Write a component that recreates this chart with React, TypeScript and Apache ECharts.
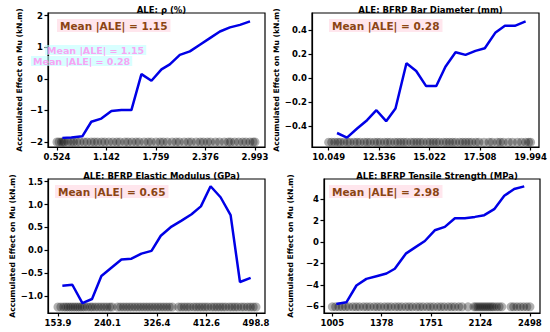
import React, { useEffect, useRef } from "react";
import * as echarts from "echarts";

// ---- Panel titles / annotations ----
const titles = ["ALE: ρ (%)", "ALE: BFRP Bar Diameter (mm)", "ALE: BFRP Elastic Modulus (GPa)", "ALE: BFRP Tensile Strength (MPa)"];
const meanAle = ["1.15", "0.28", "0.65", "2.98"];
const yLabel = "Accumulated Effect on Mu (kN.m)";

// ---- Tick values / labels ----
const xTicks1 = [0.524, 1.142, 1.759, 2.376, 2.993];
const xTicks2 = [10.049, 12.536, 15.022, 17.508, 19.994];
const xTicks3 = [153.9, 240.1, 326.4, 412.6, 498.8];
const xTicks4 = [1005, 1378, 1751, 2124, 2498];
const yTicks1 = [-2, -1, 0, 1, 2];
const yTicks2 = [-0.4, -0.2, 0.0, 0.2, 0.4];
const yTicks3 = [-1.0, -0.5, 0.0, 0.5, 1.0, 1.5];
const yTicks4 = [-6, -4, -2, 0, 2, 4];

// ---- ALE curves ----
const p1X = [0.591, 0.703, 0.84, 0.952, 1.077, 1.203, 1.327, 1.452, 1.577, 1.702, 1.827, 1.931, 2.056, 2.181, 2.306, 2.431, 2.556, 2.681, 2.806, 2.931];
const p1Y = [-1.87, -1.86, -1.82, -1.36, -1.26, -1.02, -0.99, -0.99, 0.15, -0.06, 0.3, 0.46, 0.76, 0.87, 1.08, 1.29, 1.5, 1.63, 1.71, 1.82];

const p2X = [10.46, 10.95, 11.45, 11.94, 12.4, 12.88, 13.34, 13.88, 14.36, 14.85, 15.35, 15.8, 16.3, 16.79, 17.28, 17.74, 18.27, 18.73, 19.22, 19.75];
const p2Y = [-0.456, -0.494, -0.419, -0.35, -0.267, -0.358, -0.253, 0.122, 0.058, -0.067, -0.067, 0.094, 0.214, 0.192, 0.225, 0.247, 0.378, 0.433, 0.433, 0.469];

const p3X = [161.5, 178.9, 196.4, 213.2, 229.5, 246.9, 264.4, 281.9, 299.3, 316.8, 333.0, 351.7, 369.1, 386.6, 402.8, 419.7, 437.1, 454.6, 470.9, 489.5];
const p3Y = [-0.77, -0.75, -1.15, -1.06, -0.56, -0.38, -0.2, -0.18, -0.07, -0.01, 0.32, 0.52, 0.65, 0.79, 0.96, 1.4, 1.16, 0.77, -0.69, -0.6];

const p4X = [1035, 1111, 1187, 1262, 1338, 1414, 1477, 1560, 1628, 1704, 1779, 1855, 1931, 2006, 2082, 2153, 2228, 2304, 2379, 2455];
const p4Y = [-5.78, -5.63, -4.06, -3.44, -3.19, -2.94, -2.5, -1.09, -0.53, 0.09, 1.09, 1.41, 2.22, 2.22, 2.34, 2.5, 3.06, 4.31, 4.94, 5.19];

// ---- Rug (feature sample values) ----
const rug1 = [0.524, 0.55, 0.58, 0.6, 0.62, 0.66, 0.7, 0.73, 0.77, 0.81, 0.86, 0.9, 0.95, 0.99, 1.03, 1.08, 1.12, 1.17, 1.22, 1.27, 1.31, 1.37, 1.41, 1.46, 1.51, 1.55, 1.61, 1.66, 1.7, 1.76, 1.81, 1.85, 1.9, 1.96, 2.01, 2.05, 2.11, 2.16, 2.2, 2.26, 2.31, 2.35, 2.4, 2.44, 2.5, 2.55, 2.61, 2.66, 2.69, 2.74, 2.79, 2.84, 2.88, 2.93, 2.97, 2.993];
const rug1Y = -2.0;
const rug2 = [10.049, 10.2, 10.35, 10.5, 10.62, 10.8, 10.97, 11.1, 11.3, 11.45, 11.6, 11.8, 11.95, 12.1, 12.3, 12.45, 12.6, 12.8, 12.95, 13.1, 13.3, 13.45, 13.6, 13.75, 13.9, 14.1, 14.25, 14.4, 14.55, 14.7, 14.9, 15.05, 15.2, 15.35, 15.5, 15.7, 15.85, 16.0, 16.15, 16.3, 16.5, 16.65, 16.8, 16.95, 17.1, 17.3, 17.45, 17.7, 17.95, 18.1, 18.35, 18.5, 18.65, 18.9, 19.1, 19.35, 19.55, 19.75, 19.9, 19.994];
const rug2Y = -0.532;
const rug3 = [153.9, 159, 164, 168, 172, 176, 180, 184, 188, 192, 196, 200, 205, 210, 214, 219, 224, 229, 234, 239, 244, 248, 258, 263, 268, 273, 278, 283, 288, 293, 298, 303, 308, 313, 318, 323, 328, 333, 338, 343, 348, 353, 364, 369, 374, 379, 384, 390, 395, 400, 405, 410, 415, 421, 426, 431, 436, 441, 446, 452, 457, 462, 467, 473, 478, 484, 489, 494, 498.8];
const rug3Y = -1.235;
const rug4 = [1005, 1030, 1055, 1080, 1105, 1130, 1160, 1185, 1210, 1240, 1265, 1290, 1320, 1345, 1370, 1400, 1425, 1450, 1480, 1505, 1530, 1560, 1585, 1610, 1640, 1665, 1690, 1720, 1745, 1770, 1800, 1825, 1850, 1880, 1905, 1930, 1960, 1985, 2030, 2075, 2090, 2105, 2120, 2135, 2150, 2165, 2180, 2195, 2210, 2225, 2245, 2265, 2285, 2355, 2375, 2400, 2425, 2450, 2475, 2498];
const rug4Y = -6.05;

const FONT = "DejaVu Sans";

export default function App() {
  const ref = useRef<HTMLDivElement>(null);
  useEffect(() => {
    if (!ref.current) return;
    const chart = echarts.init(ref.current, null, { renderer: "svg" });

    const grids = [
      { left: 48, top: 13, width: 217, height: 134 },
      { left: 312, top: 13, width: 227, height: 134 },
      { left: 48, top: 179, width: 217, height: 134 },
      { left: 324, top: 179, width: 216, height: 134 },
    ];
    const xr = [[0.412, 3.118], [9.227, 20.41], [136.5, 514.5], [942, 2574]];
    const yr = [[-2.159, 2.085], [-0.572, 0.539], [-1.366, 1.558], [-6.625, 5.875]];
    const xt = [xTicks1, xTicks2, xTicks3, xTicks4];
    const yt = [yTicks1, yTicks2, yTicks3, yTicks4];
    const yDec = [0, 1, 1, 0];
    const nameGaps = [25, 26, 25, 30];
    const lines = [[p1X, p1Y], [p2X, p2Y], [p3X, p3Y], [p4X, p4Y]];
    const rugs = [[rug1, rug1Y], [rug2, rug2Y], [rug3, rug3Y], [rug4, rug4Y]];
    const annBox = [
      { left: 57, top: 19 },
      { left: 329, top: 19 },
      { left: 55, top: 185 },
      { left: 329, top: 185 },
    ];

    const axisLine = { show: true, onZero: false, lineStyle: { color: "#000", width: 1.2 } };
    const tickStyle = { color: "#000", width: 1.2 };
    const labelStyle = { color: "#000", fontFamily: FONT, fontWeight: "bold" as const, fontSize: 8.5 };
    const fmtMinus = (s: string) => s.replace("-", "\u2212");

    const option: any = {
      animation: false,
      backgroundColor: "#fff",
      grid: grids.map((g) => ({ ...g, show: true, borderColor: "#000", borderWidth: 1.2, backgroundColor: "transparent" })),
      title: [
        ...titles.map((t, i) => ({
          text: t,
          left: grids[i].left + grids[i].width / 2,
          top: grids[i].top - 13,
          textAlign: "center",
          textStyle: { fontFamily: FONT, fontWeight: "bold", fontSize: 8.5, color: "#000" },
        })),
        ...meanAle.map((m, i) => ({
          text: "Mean |ALE| = " + m,
          left: annBox[i].left,
          top: annBox[i].top,
          padding: [1, 3, 1, 3],
          backgroundColor: "rgba(255,200,215,0.45)",
          textStyle: { fontFamily: FONT, fontWeight: "bold", fontSize: 10.5, color: "#8B4513" },
        })),
        {
          text: "Mean |ALE| = 1.15",
          left: 45,
          top: 45,
          padding: [0, 2, 0, 2],
          backgroundColor: "rgba(190,255,255,0.6)",
          textStyle: { fontFamily: FONT, fontWeight: "bold", fontSize: 9.5, color: "rgba(255,140,240,0.8)" },
        },
        {
          text: "Mean |ALE| = 0.28",
          left: 31,
          top: 56,
          padding: [0, 2, 0, 2],
          backgroundColor: "rgba(190,255,255,0.6)",
          textStyle: { fontFamily: FONT, fontWeight: "bold", fontSize: 9.5, color: "rgba(255,140,240,0.8)" },
        },
      ],
      xAxis: xt.map((ticks, i) => ({
        gridIndex: i,
        type: "value",
        min: xr[i][0],
        max: xr[i][1],
        axisLine,
        splitLine: { show: false },
        axisTick: { show: true, customValues: ticks, length: 3.5, lineStyle: tickStyle },
        axisLabel: {
          ...labelStyle,
          customValues: ticks,
          margin: 5,
          formatter: (v: number) => {
            let best = ticks[0];
            for (const t of ticks) if (Math.abs(t - v) < Math.abs(best - v)) best = t;
            return String(best);
          },
        },
      })),
      yAxis: yt.map((ticks, i) => ({
        gridIndex: i,
        type: "value",
        min: yr[i][0],
        max: yr[i][1],
        axisLine,
        splitLine: { show: false },
        axisTick: { show: true, customValues: ticks, length: 3.5, lineStyle: tickStyle },
        axisLabel: {
          ...labelStyle,
          customValues: ticks,
          margin: 5,
          formatter: (v: number) => fmtMinus(v.toFixed(yDec[i])),
        },
        name: yLabel,
        nameLocation: "middle",
        nameRotate: 90,
        nameGap: nameGaps[i],
        nameTextStyle: { fontFamily: FONT, fontWeight: "bold", fontSize: 7.6, color: "#000" },
      })),
      series: [
        ...rugs.map(([xs, y], i) => ({
          type: "scatter",
          xAxisIndex: i,
          yAxisIndex: i,
          symbol: "circle",
          symbolSize: 9,
          itemStyle: { color: "rgba(0,0,0,0.38)" },
          data: (xs as number[]).map((x) => [x, y as number]),
          silent: true,
        })),
        ...lines.map(([xs, ys], i) => ({
          type: "line",
          xAxisIndex: i,
          yAxisIndex: i,
          symbol: "none",
          lineStyle: { color: "#0000e6", width: 2.5 },
          data: xs.map((x, k) => [x, ys[k]]),
          silent: true,
        })),
      ],
    };
    chart.setOption(option);
    return () => chart.dispose();
  }, []);

  return <div ref={ref} style={{ position: "fixed", left: 0, top: 0, width: 550, height: 332, background: "#fff" }} />;
}
